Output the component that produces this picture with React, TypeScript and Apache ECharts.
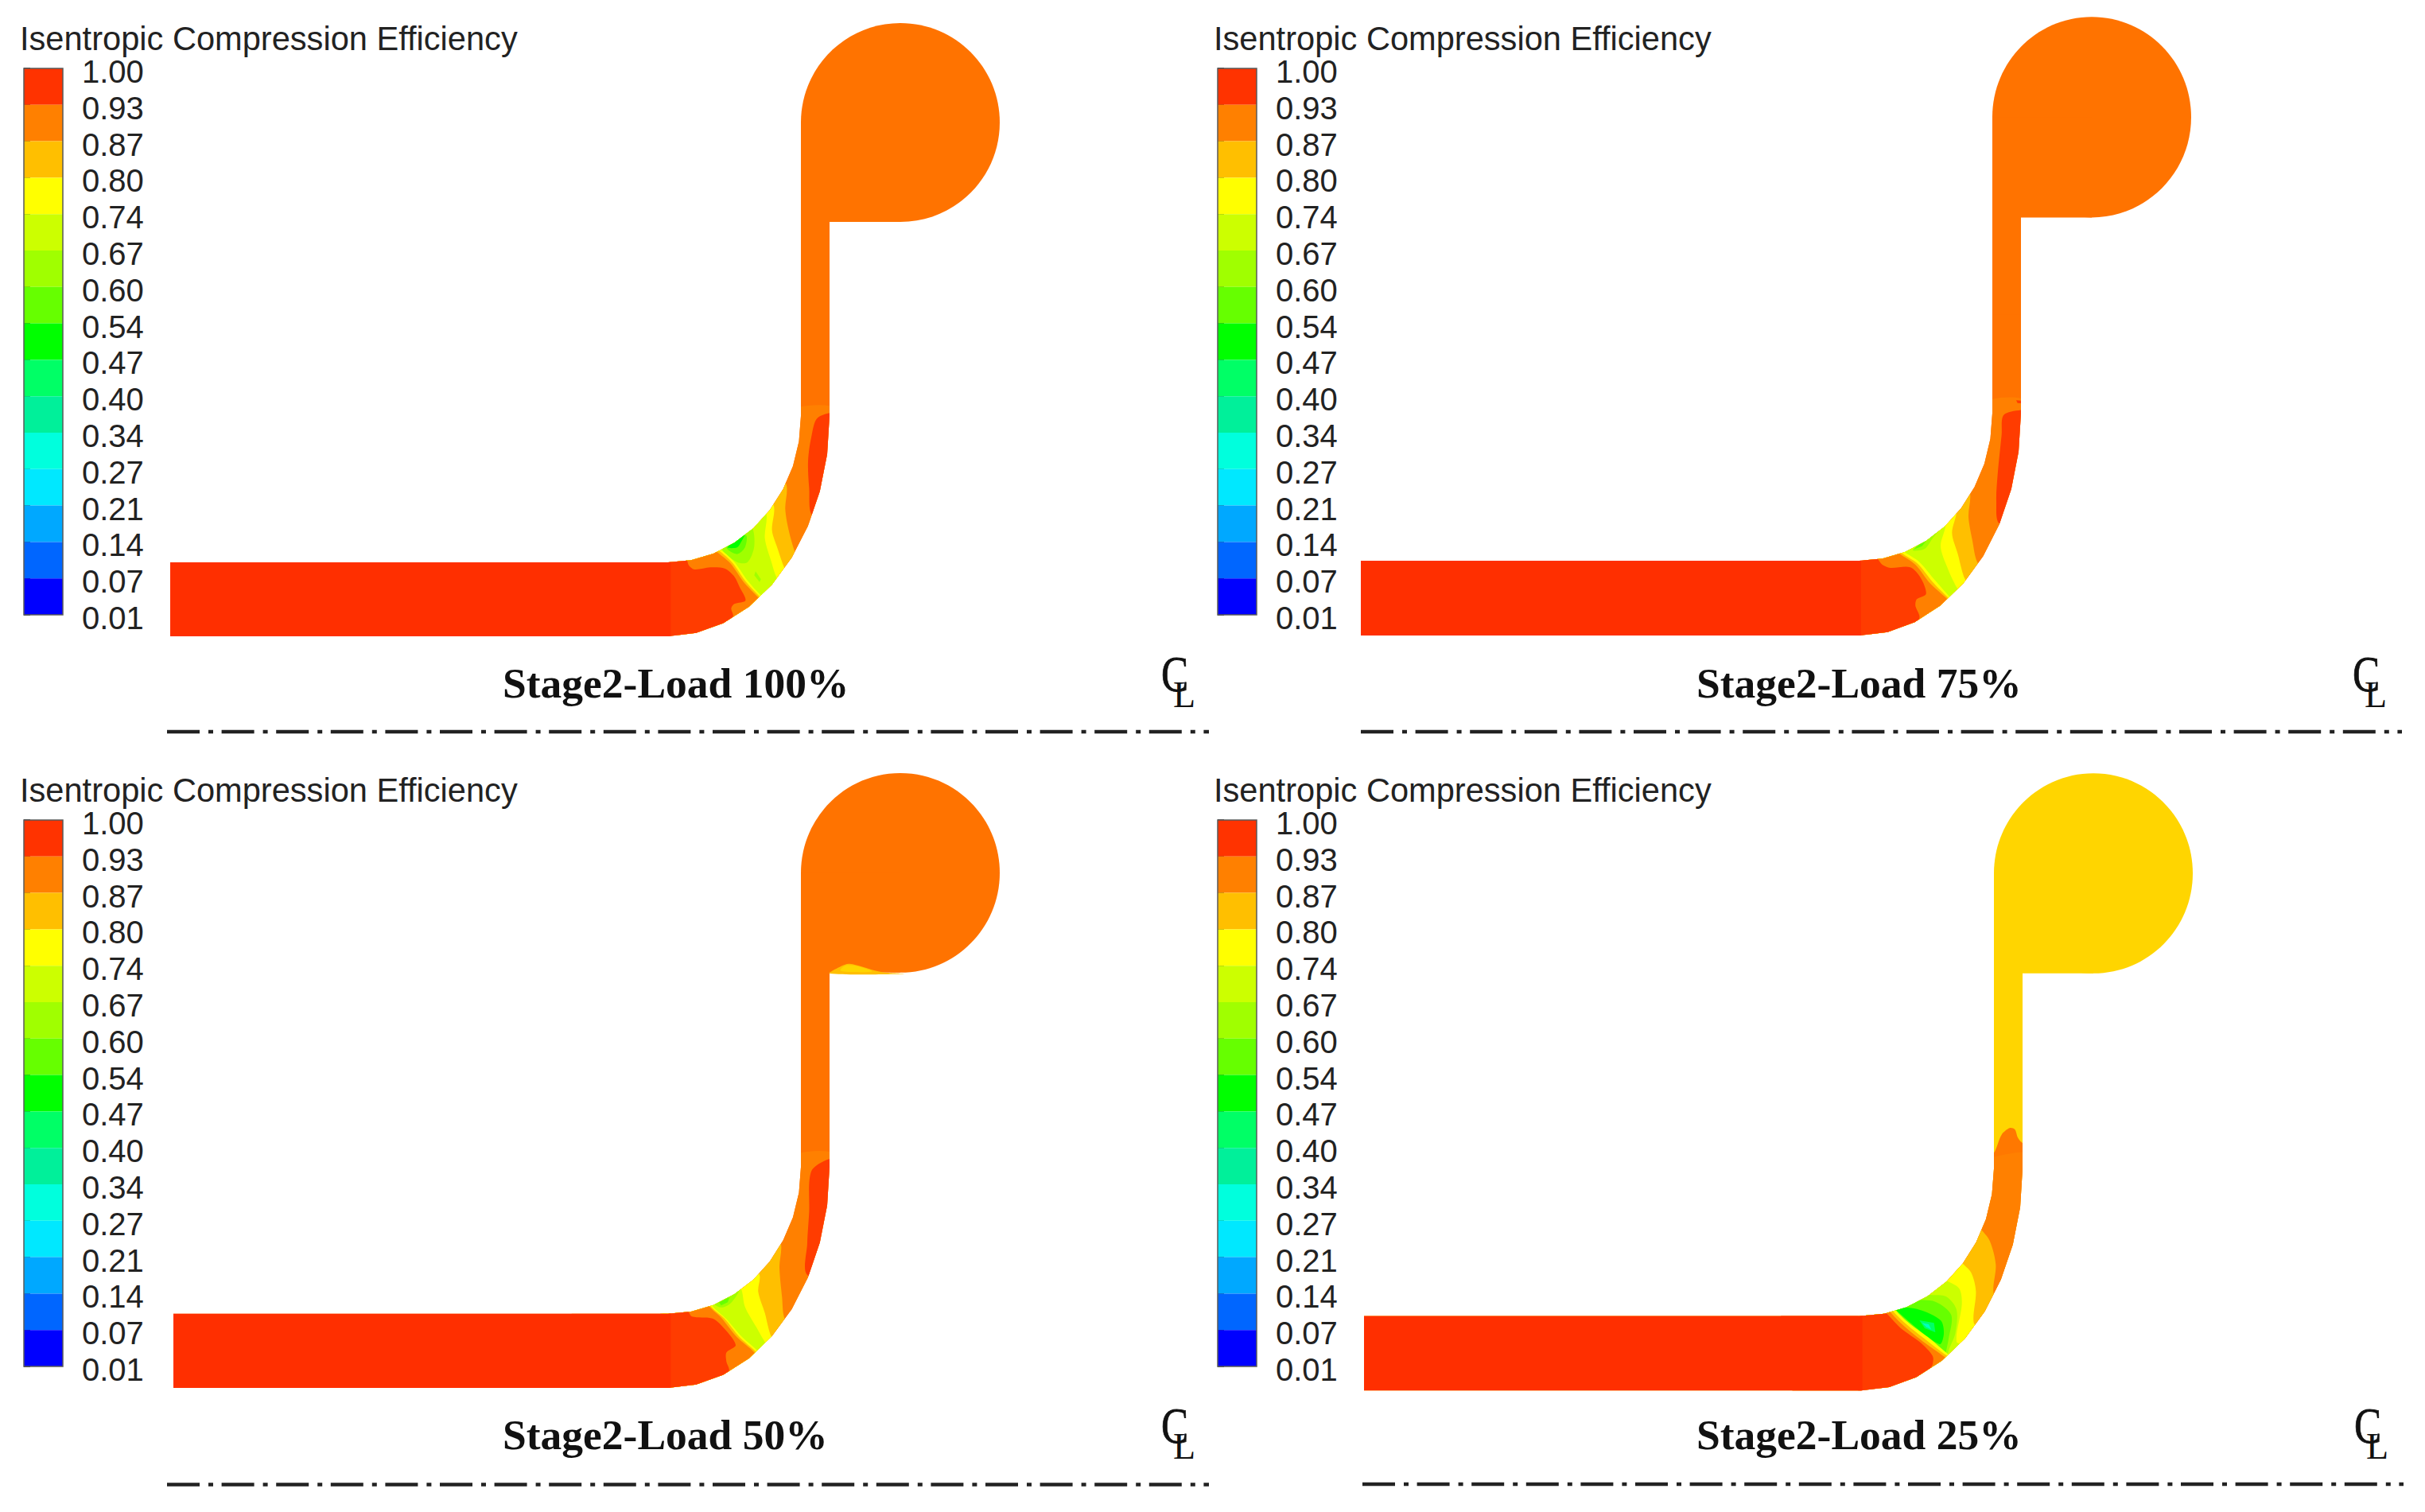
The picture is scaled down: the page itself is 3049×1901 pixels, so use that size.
import { useEffect, useRef } from "react";
import * as echarts from "echarts";

type Pt = number[];
type Zone = { color: string; pts: Pt[]; free?: boolean };

const legendTitle = "Isentropic Compression Efficiency";
const legendLabels = ["1.00", "0.93", "0.87", "0.80", "0.74", "0.67", "0.60", "0.54", "0.47", "0.40", "0.34", "0.27", "0.21", "0.14", "0.07", "0.01"];
const bandColors = ["#ff3300", "#ff8000", "#ffbf00", "#ffff00", "#ccff00", "#a0ff00", "#66ff00", "#00ff00", "#00ff66", "#00f09a", "#00ffdd", "#00e8ff", "#00a8ff", "#0066ff", "#0000ff"];

const ductRed = "#ff2f00";
const elbowRed = "#ff3c00";
const voluteOrange = "#ff7300";
const voluteYellow = "#ffd500";
const [, orange, amber, yellow, lime, chartreuse, leaf, green, spring] = bandColors;
const aqua = "#00ffc0";

// outlines, in picture pixels of the top left panel
const elbowInner: Pt[] = [[1007, 523], [1004.5, 555], [997, 585.9], [984.6, 615], [967.9, 641.3], [947.4, 664], [923.5, 682.3], [897.1, 696], [869.1, 704.2], [840, 707]];
const elbowOuter: Pt[] = [[840, 800], [875.3, 795.8], [909.4, 783.4], [941.5, 762.9], [970.5, 735.2], [995.5, 701.1], [1015.8, 661.5], [1030.8, 617.7], [1040, 571.2], [1043, 523]];
const voluteCircle = [1132, 154, 125];
const voluteNeck: Pt[] = [[1007, 154], [1132, 154], [1132, 279], [1043, 279], [1043, 420], [1007, 420]];

const captions = ["Stage2-Load 100%", "Stage2-Load 75%", "Stage2-Load 50%", "Stage2-Load 25%"];
const ductLeft = [214, 213, 218, 215];
const centerLineX = [[210, 1520], [213, 1522], [210, 1520], [213, 1522]];
const centerLineY = [920, 920, 921, 917];
const voluteColors = [voluteOrange, voluteOrange, voluteOrange, voluteYellow];

const load100Zones: Zone[] = [
  { color: orange, pts: [[600, 125], [850, 125], [850, 1020], [-100, 1020], [-100, 400], [600, 400]] },
  { color: elbowRed, pts: [[745, 135], [720, 210], [708, 300], [712, 400], [725, 505], [830, 505], [830, 125]] },
  { color: amber, pts: [[625, 385], [622, 480], [635, 560], [660, 645], [700, 720], [400, 1020], [200, 500], [560, 330]] },
  { color: yellow, pts: [[578, 465], [572, 560], [590, 620], [620, 705], [650, 760], [400, 1020], [200, 500], [520, 420]] },
  { color: lime, pts: [[550, 495], [545, 590], [570, 680], [590, 740], [620, 780], [400, 1020], [200, 500], [500, 440]] },
  { color: chartreuse, pts: [[495, 550], [505, 620], [480, 680], [440, 680], [385, 630], [440, 570]] },
  { color: chartreuse, pts: [[510, 715], [530, 745], [525, 755], [505, 730]] },
  { color: leaf, pts: [[475, 580], [470, 625], [440, 650], [400, 625], [440, 590]] },
  { color: green, pts: [[475, 565], [455, 605], [440, 625], [405, 625], [430, 600]] },
  { color: yellow, pts: [[380, 635], [430, 680], [480, 750], [532, 808], [560, 830], [300, 1020], [100, 800], [230, 650], [340, 620]] },
  { color: amber, pts: [[372, 637], [422, 682], [472, 752], [527, 812], [550, 835], [300, 1020], [100, 800], [230, 650], [340, 620]] },
  { color: orange, pts: [[362, 640], [415, 685], [465, 755], [522, 815], [545, 840], [300, 1020], [100, 800], [200, 650], [340, 620]] },
  { color: elbowRed, pts: [[190, 600], [250, 670], [258, 692], [280, 708], [340, 700], [395, 705], [430, 735], [450, 775], [472, 825], [430, 838], [418, 855], [425, 885], [360, 1020], [190, 1020]] },
  { color: ductRed, pts: [[-2000, 600], [190, 600], [190, 1020], [-2000, 1020]] },
];

const load75Zones: Zone[] = [
  { color: orange, pts: [[500, 60], [700, 60], [700, 1000], [-100, 1000], [-100, 300], [500, 300]] },
  { color: elbowRed, pts: [[598, 95], [670, 75], [700, 75], [700, 505], [582, 505], [570, 420], [575, 320], [590, 170]] },
  { color: elbowRed, pts: [[645, 40], [670, 42], [670, 52], [650, 50]] },
  { color: amber, pts: [[470, 385], [465, 480], [480, 570], [498, 650], [540, 700], [300, 1000], [100, 450], [420, 320]] },
  { color: yellow, pts: [[420, 450], [403, 540], [425, 620], [452, 715], [490, 760], [300, 1000], [100, 450], [380, 400]] },
  { color: lime, pts: [[378, 505], [360, 590], [385, 670], [420, 745], [450, 790], [300, 1000], [100, 450], [340, 440]] },
  { color: chartreuse, pts: [[375, 505], [330, 560], [300, 600], [255, 605], [300, 565]] },
  { color: leaf, pts: [[320, 550], [290, 590], [258, 602], [295, 570]] },
  { color: yellow, pts: [[220, 610], [280, 650], [340, 720], [398, 785], [430, 810], [200, 1000], [0, 800], [100, 620], [200, 590]] },
  { color: amber, pts: [[212, 614], [272, 655], [330, 725], [392, 788], [420, 815], [200, 1000], [0, 800], [100, 620], [200, 590]] },
  { color: orange, pts: [[205, 618], [265, 660], [320, 730], [385, 790], [410, 820], [200, 1000], [0, 800], [90, 620], [190, 600]] },
  { color: elbowRed, pts: [[60, 580], [120, 635], [140, 660], [170, 672], [245, 670], [285, 710], [305, 770], [270, 790], [265, 815], [280, 860], [220, 1000], [60, 1000]] },
  { color: ductRed, pts: [[-2000, 580], [60, 580], [60, 1000], [-2000, 1000]] },
];

const load50Zones: Zone[] = [
  { color: orange, pts: [[600, 730], [850, 730], [850, 1560], [-100, 1560], [-100, 950], [600, 950]] },
  { color: elbowRed, pts: [[720, 765], [785, 725], [850, 725], [850, 1105], [705, 1105], [705, 1000], [712, 900]] },
  { color: amber, pts: [[605, 1000], [600, 1080], [610, 1180], [618, 1245], [650, 1290], [350, 1560], [150, 1150], [560, 950]] },
  { color: yellow, pts: [[525, 1105], [520, 1160], [545, 1230], [568, 1305], [600, 1340], [350, 1560], [150, 1150], [490, 1080]] },
  { color: lime, pts: [[455, 1150], [470, 1210], [515, 1280], [548, 1330], [580, 1370], [350, 1560], [150, 1150], [420, 1120]] },
  { color: chartreuse, pts: [[450, 1150], [420, 1195], [385, 1212], [355, 1200], [400, 1165]] },
  { color: leaf, pts: [[412, 1178], [405, 1195], [380, 1205], [372, 1195]] },
  { color: yellow, pts: [[345, 1205], [400, 1250], [460, 1310], [518, 1355], [550, 1390], [300, 1560], [100, 1400], [200, 1180], [330, 1170]] },
  { color: amber, pts: [[340, 1207], [392, 1248], [450, 1310], [511, 1358], [540, 1395], [300, 1560], [100, 1400], [200, 1180], [325, 1172]] },
  { color: orange, pts: [[335, 1208], [380, 1245], [440, 1310], [505, 1360], [530, 1400], [300, 1560], [100, 1400], [190, 1180], [320, 1175]] },
  { color: elbowRed, pts: [[190, 1180], [255, 1225], [270, 1242], [345, 1248], [380, 1270], [435, 1335], [400, 1360], [400, 1390], [410, 1420], [340, 1560], [190, 1560]] },
  { color: ductRed, pts: [[-2000, 1180], [190, 1180], [190, 1560], [-2000, 1560]] },
  { color: amber, free: true, pts: [[790, 115], [830, 92], [865, 83], [960, 105], [1000, 112], [1070, 116]] },
  { color: voluteYellow, free: true, pts: [[830, 105], [850, 88], [900, 92], [950, 108], [880, 110]] },
];

const load25Zones: Zone[] = [
  { color: "#ff7800", pts: [[620, 150], [650, 80], [680, 55], [700, 60], [712, 92], [735, 115], [780, 115], [780, 1100], [-100, 1100], [-100, 400], [600, 150]] },
  { color: orange, pts: [[600, 170], [780, 170], [780, 1100], [-100, 1100], [-100, 400]] },
  { color: amber, pts: [[570, 435], [605, 480], [628, 570], [620, 680], [660, 720], [400, 1100], [100, 700], [530, 400]] },
  { color: yellow, pts: [[497, 560], [535, 600], [553, 670], [545, 790], [580, 820], [400, 1100], [100, 700], [470, 530]] },
  { color: lime, pts: [[435, 625], [490, 660], [500, 720], [480, 860], [520, 880], [400, 1100], [100, 700], [420, 600]] },
  { color: chartreuse, pts: [[360, 680], [440, 690], [480, 740], [475, 830], [450, 895], [400, 1100], [100, 700], [340, 650]] },
  { color: leaf, pts: [[310, 700], [400, 710], [460, 760], [450, 850], [440, 900], [400, 1100], [100, 700], [300, 680]] },
  { color: green, pts: [[255, 730], [340, 740], [420, 780], [432, 830], [415, 870], [250, 740]] },
  { color: spring, pts: [[340, 780], [395, 790], [400, 825], [360, 810]] },
  { color: aqua, pts: [[350, 790], [375, 795], [385, 815], [365, 805]] },
  { color: yellow, pts: [[245, 735], [300, 790], [380, 850], [445, 905], [480, 930], [300, 1100], [50, 900], [150, 730], [230, 700]] },
  { color: amber, pts: [[235, 738], [292, 796], [370, 858], [438, 910], [470, 935], [300, 1100], [50, 900], [150, 730], [225, 705]] },
  { color: orange, pts: [[225, 742], [282, 802], [360, 865], [430, 915], [460, 940], [300, 1100], [50, 900], [150, 730], [215, 710]] },
  { color: elbowRed, pts: [[125, 700], [205, 745], [270, 810], [345, 865], [390, 915], [390, 945], [380, 965], [330, 1100], [125, 1100]] },
  { color: ductRed, pts: [[-2000, 700], [125, 700], [125, 1100], [-2000, 1100]] },
];

const panelZones = [load100Zones, load75Zones, load50Zones, load25Zones];

// where each panel sits on the page, and the crop each zone list was read from
const panels = [
  { ox: 0, oy: 0, sy: 1, legendX: 30, legendY: 86, titleX: 25, titleY: 27, captionX: 632, captionY: 832, crop: [780, 480, 3, 3] },
  { ox: 1498, oy: -8, sy: 1.0086, legendX: 1531, legendY: 86, titleX: 1526, titleY: 27, captionX: 2133, captionY: 832, crop: [2320, 490, 3, 3] },
  { ox: 0, oy: 943, sy: 1.0026, legendX: 30, legendY: 1031, titleX: 25, titleY: 972, captionX: 632, captionY: 1777, crop: [780, 1180, 3, 2.613] },
  { ox: 1500, oy: 943, sy: 1.0065, legendX: 1531, legendY: 1031, titleX: 1526, titleY: 972, captionX: 2133, captionY: 1777, crop: [2300, 1400, 3, 3] },
];

const LOCAL_W = 1540;
const LOCAL_H = 950;

function buildOption() {
  const grid: any[] = [];
  const xAxis: any[] = [];
  const yAxis: any[] = [];
  const series: any[] = [];
  const title: any[] = [];
  const graphic: any[] = [];

  panels.forEach((p, idx) => {
    // flow path, the axis starts lower when the panel would poke above the page
    const gi = grid.length;
    const yMin = p.oy < 0 ? -p.oy / p.sy : 0;
    grid.push({ left: p.ox, top: Math.max(p.oy, 0), width: LOCAL_W, height: (LOCAL_H - yMin) * p.sy, outerBoundsMode: "none" });
    xAxis.push({ type: "value", gridIndex: gi, min: 0, max: LOCAL_W, show: false });
    yAxis.push({ type: "value", gridIndex: gi, min: yMin, max: LOCAL_H, inverse: true, show: false });

    const left = ductLeft[idx];
    const outline: Pt[] = [[left, 707], ...elbowInner.slice().reverse(), [1007, 400], [1043, 400], ...elbowOuter.slice().reverse(), [left, 800]];
    const [cx, cy, sx, sy] = p.crop;
    const zones = panelZones[idx].map((z) => ({
      ...z,
      pts: z.pts.map(([x, y]) => [cx + x / sx - p.ox, (cy + y / sy - p.oy) / p.sy]),
    }));

    series.push({
      type: "custom",
      xAxisIndex: gi,
      yAxisIndex: gi,
      silent: true,
      clip: false,
      data: [[0, 0]],
      renderItem: (_: any, api: any) => {
        const c = api.coord([voluteCircle[0], voluteCircle[1]]);
        const [rx, ry] = api.size([voluteCircle[2], voluteCircle[2]]);
        const fill = voluteColors[idx];
        return {
          type: "group",
          children: [
            { type: "ellipse", shape: { cx: c[0], cy: c[1], rx, ry }, style: { fill } },
            { type: "polygon", shape: { points: voluteNeck.map((q) => api.coord(q)) }, style: { fill } },
            { type: "polygon", shape: { points: outline.map((q) => api.coord(q)) }, style: { fill } },
          ],
        };
      },
    });

    series.push({
      type: "custom",
      xAxisIndex: gi,
      yAxisIndex: gi,
      silent: true,
      clip: false,
      data: zones.map((_, i) => [i, 0]),
      renderItem: (params: any, api: any) => {
        const z = zones[params.dataIndex];
        const el: any = {
          type: "polygon",
          shape: { points: z.pts.map((q) => api.coord(q)), smooth: z.pts.length > 4 ? 0.3 : 0 },
          style: { fill: z.color },
        };
        if (!z.free) {
          el.clipPath = { type: "polygon", shape: { points: outline.map((q) => api.coord(q)) } };
        }
        return el;
      },
    });

    series.push({
      type: "line",
      xAxisIndex: gi,
      yAxisIndex: gi,
      silent: true,
      symbol: "none",
      data: [[centerLineX[idx][0], centerLineY[idx]], [centerLineX[idx][1], centerLineY[idx]]],
      lineStyle: { color: "#222222", width: 4.5, type: [41, 11, 6, 10.6] },
    });

    // colour legend
    const li = grid.length;
    grid.push({ left: p.legendX, top: p.legendY, width: 49, height: 687, outerBoundsMode: "none" });
    xAxis.push({ type: "value", gridIndex: li, min: 0, max: 1, show: false });
    yAxis.push({
      type: "value",
      gridIndex: li,
      min: 0,
      max: 15,
      interval: 1,
      inverse: true,
      position: "right",
      axisLine: { show: false },
      splitLine: { show: false },
      axisTick: { show: true, length: 8, lineStyle: { color: "#444444", width: 2 } },
      axisLabel: {
        show: true,
        margin: 24,
        color: "#222222",
        fontFamily: "Liberation Sans",
        fontSize: 40,
        verticalAlign: "top",
        padding: [-16, 0, 0, 0],
        formatter: (v: number) => legendLabels[v],
      },
    });
    series.push({
      type: "custom",
      xAxisIndex: li,
      yAxisIndex: li,
      silent: true,
      data: [...bandColors, "frame"].map((_, i) => [0, i]),
      renderItem: (params: any, api: any) => {
        const i = params.dataIndex;
        if (i === bandColors.length) {
          const a = api.coord([0, 0]);
          const b = api.coord([1, bandColors.length]);
          return { type: "rect", shape: { x: a[0], y: a[1], width: b[0] - a[0], height: b[1] - a[1] }, style: { fill: "none", stroke: "#5a5a5a", lineWidth: 1.5 } };
        }
        const a = api.coord([0, i]);
        const b = api.coord([1, i + 1]);
        return { type: "rect", shape: { x: a[0], y: a[1], width: b[0] - a[0], height: b[1] - a[1] }, style: { fill: bandColors[i] } };
      },
    });

    title.push({
      text: legendTitle,
      left: p.titleX,
      top: p.titleY,
      padding: 0,
      textStyle: { color: "#222222", fontFamily: "Liberation Sans", fontSize: 41.6, fontWeight: "normal" },
    });
    title.push({
      text: captions[idx],
      left: p.captionX,
      top: p.captionY,
      padding: 0,
      textStyle: { color: "#111111", fontFamily: "Liberation Serif", fontSize: 53.5, fontWeight: "bold" },
    });

    const symX = p.ox + 1460;
    const symY = idx < 2 ? 0 : 945;
    graphic.push({
      type: "text",
      x: symX,
      y: symY + 815,
      scaleX: 0.8,
      style: { text: "C", fill: "#111111", stroke: "#111111", lineWidth: 0.8, font: "normal 64px 'Liberation Serif'" },
    });
    graphic.push({
      type: "text",
      x: symX + 15,
      y: symY + 850,
      style: { text: "L", fill: "#111111", font: "normal 46px 'Liberation Serif'" },
    });
  });

  return { animation: false, backgroundColor: "#ffffff", grid, xAxis, yAxis, series, title, graphic };
}

export default function App() {
  const ref = useRef<HTMLDivElement>(null);

  useEffect(() => {
    if (!ref.current) return;
    const chart = echarts.init(ref.current, undefined, { renderer: "svg" });
    chart.setOption(buildOption());
    return () => {
      chart.dispose();
    };
  }, []);

  return <div ref={ref} style={{ position: "absolute", left: 0, top: 0, width: 3049, height: 1901 }} />;
}
